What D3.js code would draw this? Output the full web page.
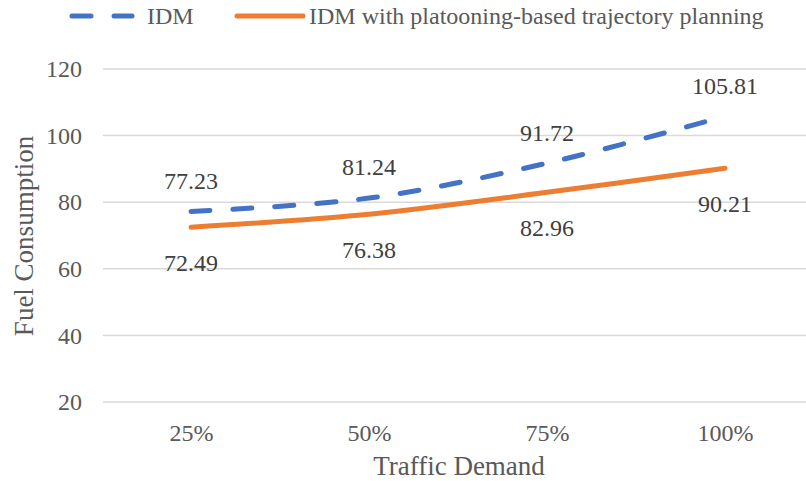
<!DOCTYPE html>
<html>
<head>
<meta charset="utf-8">
<script src="https://cdn.jsdelivr.net/npm/d3@7"></script>
<style>
  body{margin:0;background:#fff;}
  text{font-family:"Liberation Serif","DejaVu Serif","Times New Roman",serif;fill:#595959;}
</style>
</head>
<body>
<div id="chart"></div>
<script>
// data
var categories=["25%","50%","75%","100%"];
var idmValues=[77.23,81.24,91.72,105.81];
var platoonValues=[72.49,76.38,82.96,90.21];
var yTicks=[20,40,60,80,100,120];
var seriesNames=["IDM","IDM with platooning-based trajectory planning"];

var svgwidth=806,svgheight=481;
var svg=d3.select("#chart").append("svg")
    .attr("width",svgwidth)
    .attr("height",svgheight);

// scales
var xscale=d3.scalePoint().domain(categories).range([191,725]);
var yscale=d3.scaleLinear().domain([20,120]).range([402,69]);
var gridLeft=103,gridRight=806;
var fontSerif='"Liberation Serif","DejaVu Serif","Times New Roman",serif';

// gridlines
svg.append("g").selectAll("line")
    .data(yTicks).enter().append("line")
    .attr("x1",gridLeft).attr("x2",gridRight)
    .attr("y1",function(d){return yscale(d);})
    .attr("y2",function(d){return yscale(d);})
    .attr("stroke","#d9d9d9").attr("stroke-width",1.5);

// y axis
var yaxis=d3.axisLeft(yscale).tickValues(yTicks).tickSize(0).tickPadding(0);
var gy=svg.append("g").attr("transform","translate(82,0)").call(yaxis);
gy.attr("font-family",fontSerif).attr("font-size",24);
gy.select(".domain").remove();
gy.selectAll("text").attr("fill","#595959");

// x axis
var xaxis=d3.axisBottom(xscale).tickSize(0).tickPadding(0);
var gx=svg.append("g").attr("transform","translate(0,0)").call(xaxis);
gx.attr("font-family",fontSerif).attr("font-size",24);
gx.select(".domain").remove();
gx.selectAll("text").attr("fill","#595959").attr("y",441).attr("dy",null);

// axis titles
svg.append("text").attr("x",459).attr("y",475)
    .attr("text-anchor","middle").attr("font-size","27px")
    .text("Traffic Demand");
svg.append("text")
    .attr("transform","translate(33,236) rotate(-90)")
    .attr("text-anchor","middle").attr("font-size","27px")
    .text("Fuel Consumption");

// lines
var line=d3.line()
    .x(function(d,i){return xscale(categories[i]);})
    .y(function(d){return yscale(d);})
    .curve(d3.curveCatmullRom.alpha(0.5));

svg.append("path").attr("d",line(platoonValues))
    .attr("fill","none").attr("stroke","#ED7D31")
    .attr("stroke-width",5).attr("stroke-linecap","round");
svg.append("path").attr("d",line(idmValues))
    .attr("fill","none").attr("stroke","#4472C4")
    .attr("stroke-width",5).attr("stroke-linecap","round")
    .attr("stroke-dasharray","19 23");

// data labels
svg.append("g").selectAll("text")
    .data(idmValues).enter().append("text")
    .attr("x",function(d,i){return xscale(categories[i]);})
    .attr("y",function(d){return yscale(d)-31;})
    .attr("dy","0.35em").attr("text-anchor","middle").attr("font-size","24px")
    .style("fill","#404040")
    .text(function(d){return d.toFixed(2);});
svg.append("g").selectAll("text")
    .data(platoonValues).enter().append("text")
    .attr("x",function(d,i){return xscale(categories[i]);})
    .attr("y",function(d){return yscale(d)+35;})
    .attr("dy","0.35em").attr("text-anchor","middle").attr("font-size","24px")
    .style("fill","#404040")
    .text(function(d){return d.toFixed(2);});

// legend
var lg=svg.append("g");
lg.append("line").attr("x1",72).attr("x2",132).attr("y1",16).attr("y2",16)
    .attr("stroke","#4472C4").attr("stroke-width",5).attr("stroke-linecap","round")
    .attr("stroke-dasharray","19 23");
lg.append("text").attr("x",147).attr("y",24)
    .attr("font-size","24px").text(seriesNames[0]);
lg.append("line").attr("x1",237).attr("x2",303).attr("y1",16).attr("y2",16)
    .attr("stroke","#ED7D31").attr("stroke-width",5).attr("stroke-linecap","round");
lg.append("text").attr("x",309).attr("y",24)
    .attr("font-size","24px").text(seriesNames[1]);
</script>
</body>
</html>
